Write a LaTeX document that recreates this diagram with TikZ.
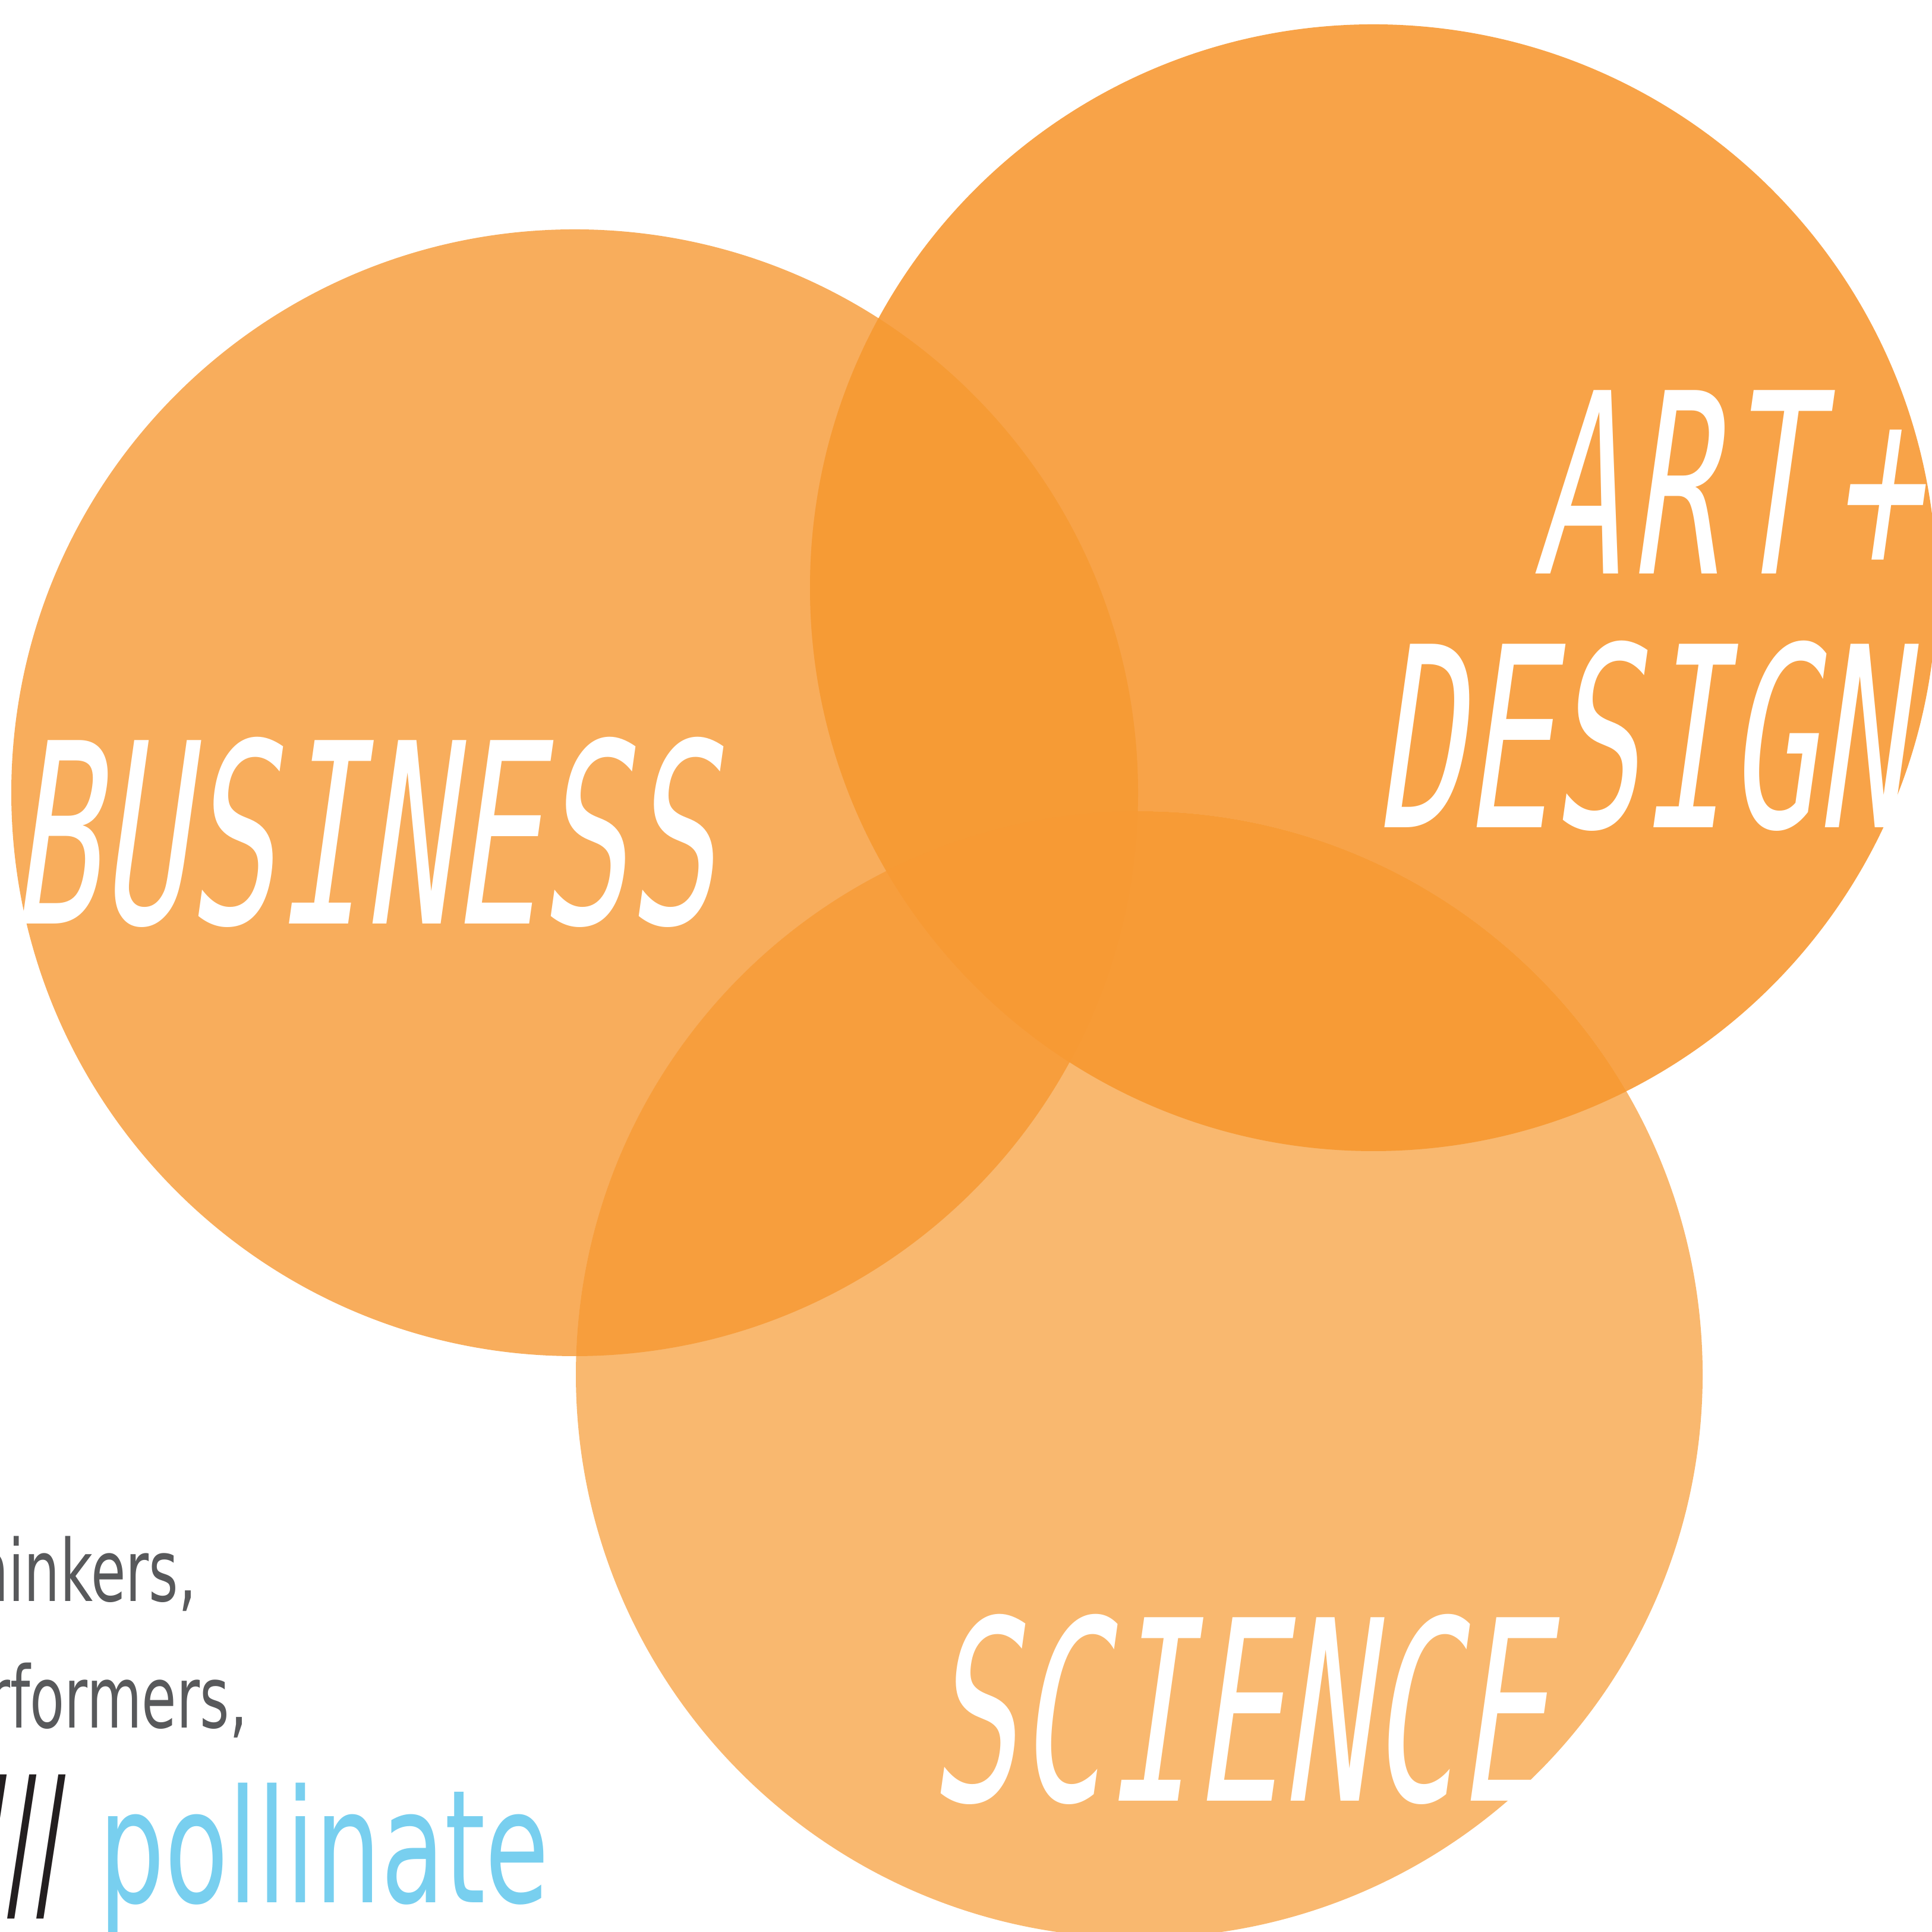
\documentclass[tikz,border=0pt]{standalone}
\usepackage{fontspec}
\newfontfamily\bigfont[FakeStretch=0.581,FakeSlant=0.14]{DejaVu Sans Mono}
\newfontfamily\smallfont[FakeStretch=0.66]{DejaVu Sans}
\definecolor{bonly}{HTML}{F8AD5C}
\definecolor{aonly}{HTML}{F8A348}
\definecolor{sonly}{HTML}{F9B86F}
\definecolor{ba}{HTML}{F69B35}
\definecolor{bs}{HTML}{F79E3D}
\definecolor{as}{HTML}{F79B36}
\definecolor{bas}{HTML}{F79A34}
\definecolor{txtgray}{HTML}{58595B}
\definecolor{txtblue}{HTML}{78CFEF}
\definecolor{txtblack}{HTML}{231F20}
\begin{document}
\begin{tikzpicture}[
  bigtxt/.style={inner sep=0pt, anchor=base west, text=white,
    font=\bigfont\fontsize{120.5}{130}\selectfont},
  smalltxt/.style={inner sep=0pt, anchor=base east, text=txtgray,
    font=\smallfont\fontsize{41}{48}\selectfont},
  tagtxt/.style={inner sep=0pt, anchor=base east,
    font=\smallfont\fontsize{75.4}{80}\selectfont},
]
\useasboundingbox (0,0) rectangle (32.50,32.51);
\coordinate (cB) at (9.67,19.17);
\coordinate (cA) at (23.11,22.62);
\coordinate (cS) at (19.17,9.38);
\def\rr{9.48}
% single circles
\fill[bonly] (cB) circle (\rr);
\fill[aonly] (cA) circle (\rr);
\fill[sonly] (cS) circle (\rr);
% pairwise overlaps
\begin{scope}
  \clip (cB) circle (\rr);
  \fill[ba] (cA) circle (\rr);
  \fill[bs] (cS) circle (\rr);
\end{scope}
\begin{scope}
  \clip (cA) circle (\rr);
  \fill[as] (cS) circle (\rr);
\end{scope}
% triple overlap
\begin{scope}
  \clip (cB) circle (\rr);
  \clip (cA) circle (\rr);
  \fill[bas] (cS) circle (\rr);
\end{scope}
% labels
\node[bigtxt] (business) at (0.17,16.96) {BUSINESS};
\node[bigtxt] (art) at (25.79,22.85) {A\kern0.14cm R\kern0.13cm T\kern0.32cm +};
\node[bigtxt] (design) at (23.13,18.58) {DESIGN};
\node[bigtxt] (science) at (15.62,2.20) {SCIENCE};
% bottom-left text
\node[smalltxt] (thinkers) at (3.31,5.56) {hinkers,};
\node[smalltxt] (performers) at (4.17,3.43) {rformers,};
\node[tagtxt] (pollinate) at (9.25,0.49) {{\color{txtblack}\fontsize{84}{90}\selectfont\scalebox{0.75}[1]{///}} {\color{txtblue}pollinate}};
\end{tikzpicture}
\end{document}
